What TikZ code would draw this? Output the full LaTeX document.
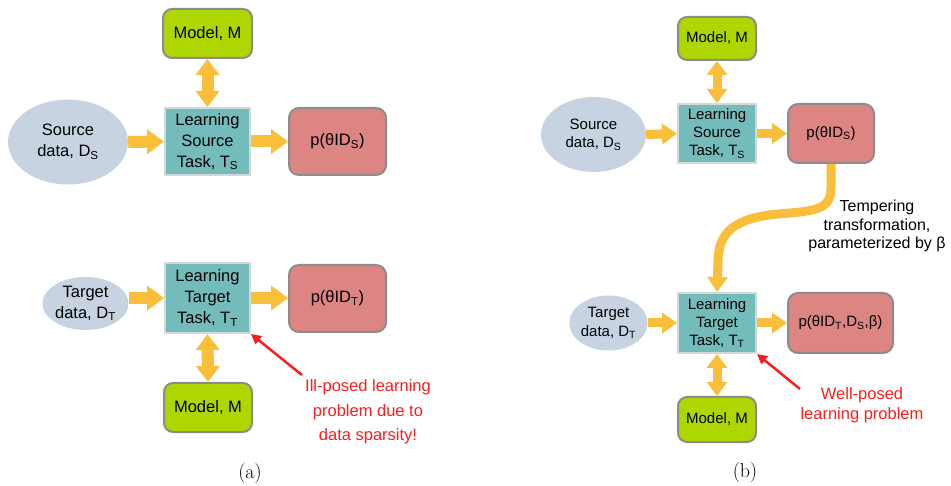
\documentclass[tikz,border=0pt]{standalone}
\usepackage{fontspec}
\newfontfamily\arial{Liberation Sans}
\usetikzlibrary{arrows.meta,shapes.geometric}
\definecolor{arrowY}{HTML}{F9BF3B}
\definecolor{modelG}{HTML}{AED600}
\definecolor{dataB}{HTML}{C8D3E2}
\definecolor{taskT}{HTML}{73BCBB}
\definecolor{taskBd}{HTML}{D3D9D9}
\definecolor{postR}{HTML}{DD8582}
\definecolor{bordG}{HTML}{8C8C8C}
\definecolor{redT}{HTML}{F81E1E}
\tikzset{
  bigtxt/.style={font=\arial\fontsize{16.5}{21}\selectfont, align=center, text=black},
  smalltxt/.style={font=\arial\fontsize{15}{18.3}\selectfont, align=center, text=black},
  modelbox/.style={draw=bordG, line width=2pt, fill=modelG, rounded corners=9pt, inner sep=0pt},
  databox/.style={ellipse, fill=dataB, inner sep=0pt},
  taskbox/.style={draw=taskBd, line width=2pt, fill=taskT, inner sep=0pt},
  postbox/.style={draw=bordG, line width=2pt, fill=postR, rounded corners=10pt, inner sep=0pt},
  flowA/.style={draw=arrowY, line width=12pt, -{Triangle[length=17pt,width=24pt]}},
  twowayA/.style={draw=arrowY, line width=12pt, {Triangle[length=16pt,width=23pt]}-{Triangle[length=16pt,width=23pt]}},
  flowB/.style={draw=arrowY, line width=9pt, -{Triangle[length=15pt,width=20pt]}},
  twowayB/.style={draw=arrowY, line width=9pt, {Triangle[length=14pt,width=20pt]}-{Triangle[length=14pt,width=20pt]}},
  redarrow/.style={draw=redT, line width=2.5pt, -{Triangle[length=10pt,width=10pt]}},
  redtxt/.style={font=\arial\fontsize{16.5}{24.5}\selectfont, align=center, text=redT},
  redtxtb/.style={font=\arial\fontsize{16.5}{20}\selectfont, align=center, text=redT},
  captxt/.style={font=\rmfamily\fontsize{20}{24}\selectfont},
}
\begin{document}
\begin{tikzpicture}[x=1pt,y=-1pt]
\useasboundingbox (0,0) rectangle (951,486);
% ---------- panel (a) ----------
\node[modelbox, bigtxt, minimum width=89pt, minimum height=49pt] (modelA1) at (207.5,33.5) {Model, M};
\node[databox, bigtxt, minimum width=120pt, minimum height=85pt] (srcA) at (68,142) {Source\\data, D\textsubscript{S}};
\node[taskbox, bigtxt, minimum width=85pt, minimum height=67pt] (taskA1) at (207.5,141.5) {Learning\\Source\\Task, T\textsubscript{S}};
\node[postbox, bigtxt, minimum width=97pt, minimum height=67pt] (postA1) at (337.5,141.5) {p(θID\textsubscript{S})};
\node[databox, bigtxt, minimum width=85pt, minimum height=53pt] (tgtA) at (85.5,303.5) {Target\\data, D\textsubscript{T}};
\node[taskbox, bigtxt, minimum width=85pt, minimum height=70pt] (taskA2) at (207.5,298) {Learning\\Target\\Task, T\textsubscript{T}};
\node[postbox, bigtxt, minimum width=97pt, minimum height=67pt] (postA2) at (337.5,298.5) {p(θID\textsubscript{T})};
\node[modelbox, bigtxt, minimum width=88pt, minimum height=49pt] (modelA2) at (208,407.5) {Model, M};
\node[redtxt] (illA) at (368,412) {Ill-posed learning\\problem due to\\data sparsity!};
\node[captxt] (capA) at (250,474) {(a)};
\draw[flowA] (srcA.east) -- (taskA1.west);
\draw[flowA] (taskA1.east) -- (postA1.west);
\draw[twowayA] (modelA1.south) -- (taskA1.north);
\draw[flowA] (tgtA.east |- taskA2.west) -- (taskA2.west);
\draw[flowA] (taskA2.east) -- (postA2.west |- taskA2.east);
\draw[twowayA] (taskA2.south) -- (modelA2.north);
\coordinate (illstart) at (302,375);
\draw[redarrow] (illstart) -- (taskA2.south east);
% ---------- panel (b) ----------
\node[modelbox, smalltxt, minimum width=78pt, minimum height=43pt] (modelB1) at (717,38.5) {Model, M};
\node[databox, smalltxt, minimum width=105pt, minimum height=75pt] (srcB) at (593.5,134.5) {Source\\data, D\textsubscript{S}};
\node[taskbox, smalltxt, minimum width=78pt, minimum height=59pt] (taskB1) at (717,133.5) {Learning\\Source\\Task, T\textsubscript{S}};
\node[postbox, smalltxt, minimum width=86pt, minimum height=59pt] (postB1) at (831,133.5) {p(θID\textsubscript{S})};
\node[databox, smalltxt, minimum width=75pt, minimum height=55pt] (tgtB) at (608.5,323) {Target\\data, D\textsubscript{T}};
\node[taskbox, smalltxt, minimum width=78pt, minimum height=60pt] (taskB2) at (717,323) {Learning\\Target\\Task, T\textsubscript{T}};
\node[postbox, smalltxt, minimum width=105pt, minimum height=60pt] (postB2) at (840.5,323) {p(θID\textsubscript{T},D\textsubscript{S},β)};
\node[modelbox, smalltxt, minimum width=78pt, minimum height=45pt] (modelB2) at (717,419.5) {Model, M};
\node[font=\arial\fontsize{16}{18.5}\selectfont, align=center] (temper) at (877,226) {Tempering\\transformation,\\parameterized by β};
\node[redtxtb] (wellB) at (862,405) {Well-posed\\learning problem};
\node[captxt] (capB) at (745,473) {(b)};
\draw[flowB] (srcB.east) -- (taskB1.west);
\draw[flowB] (taskB1.east) -- (postB1.west);
\draw[twowayB] (modelB1.south) -- (taskB1.north);
\draw[flowB] (tgtB.east) -- (taskB2.west);
\draw[flowB] (taskB2.east) -- (postB2.west);
\draw[twowayB] (taskB2.south) -- (modelB2.north);
\coordinate (bendA) at (831,188);
\coordinate (bendM) at (778,214);
\coordinate (bendB) at (718,262);
\draw[flowB] (postB1.south) -- (bendA) .. controls (831,210) and (815,211) .. (bendM) .. controls (735,218) and (718,232) .. (bendB) -- (taskB2.north);
\coordinate (wellstart) at (800,389);
\draw[redarrow] (wellstart) -- (taskB2.south east);
\end{tikzpicture}
\end{document}
